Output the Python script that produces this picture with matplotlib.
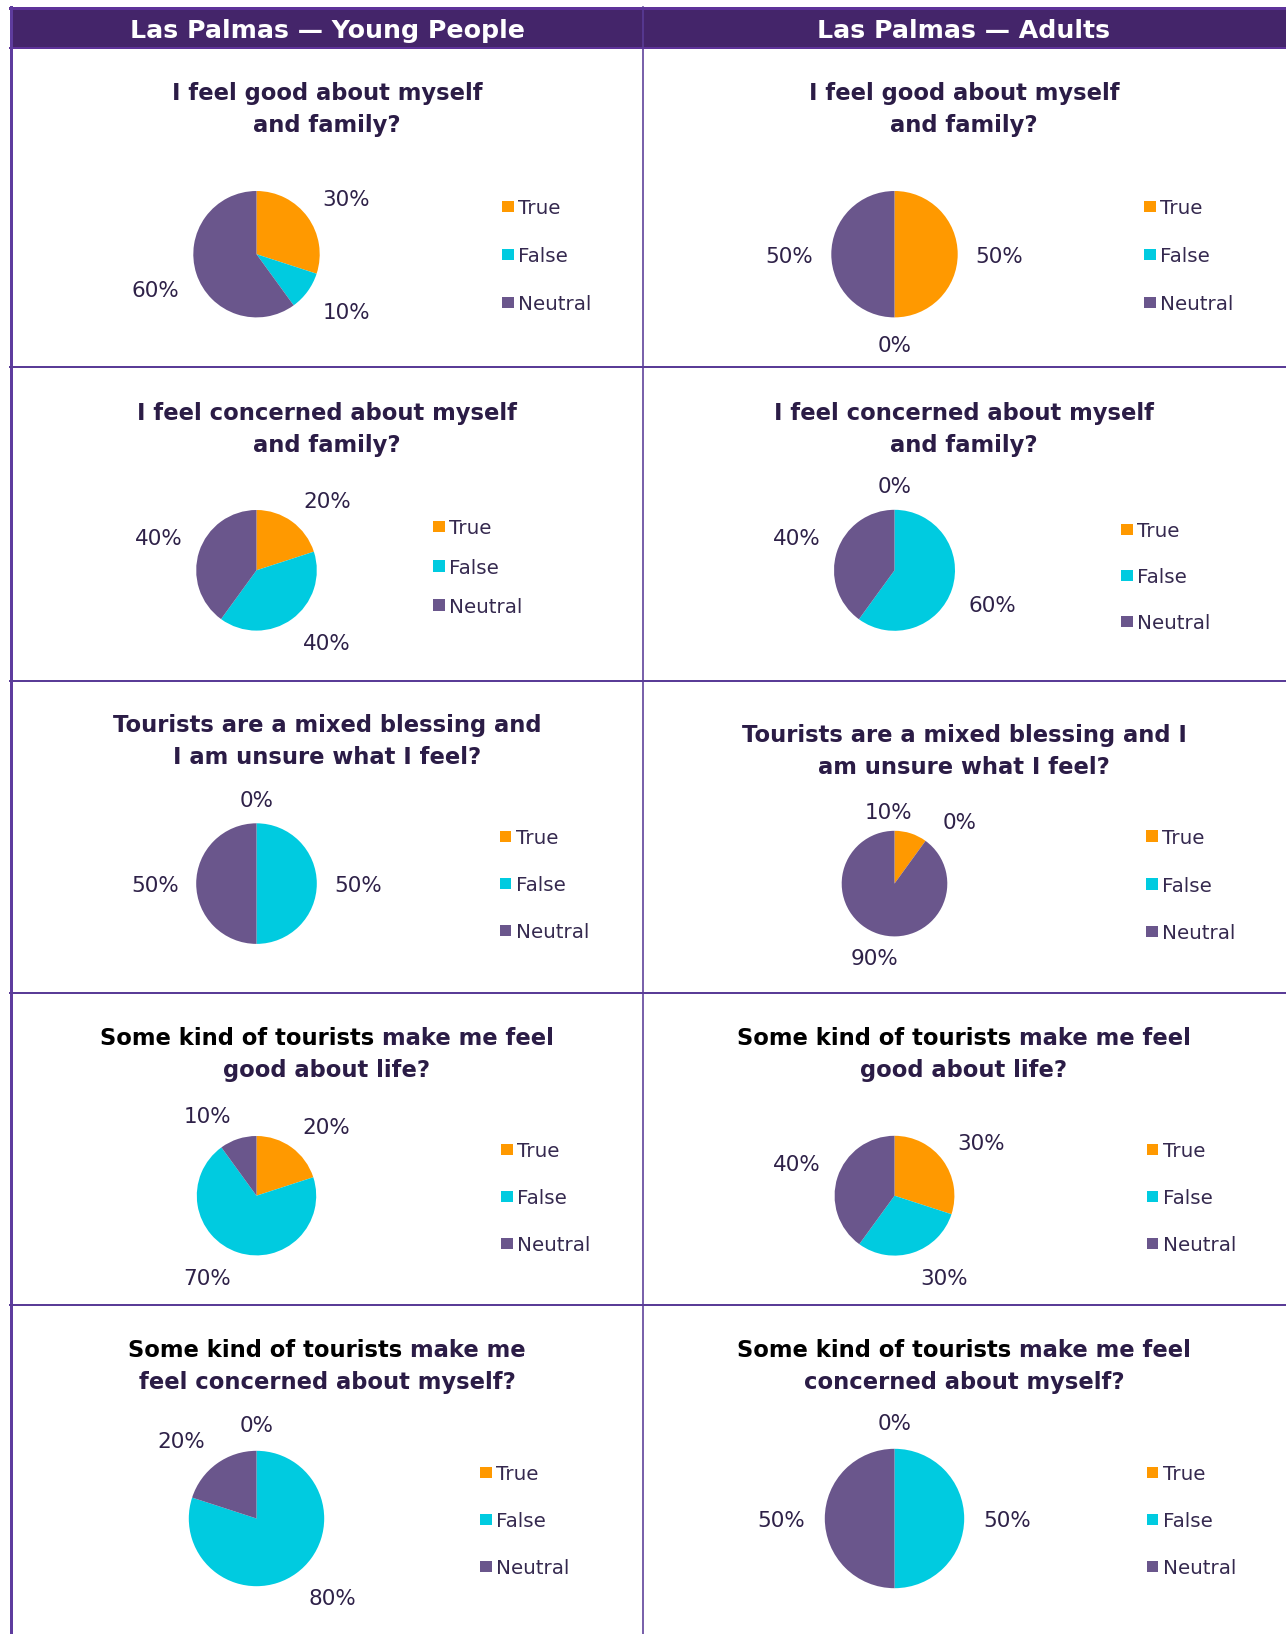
import numpy as np
import matplotlib.pyplot as plt
from matplotlib.patches import Rectangle

plt.rcParams['font.family'] = ['DejaVu Sans']

# ---------------- data ----------------
categories = ['True', 'False', 'Neutral']
slice_colors = ['#FF9900', '#00CBE0', '#6A568C']

col_headers = ['Las Palmas — Young People', 'Las Palmas — Adults']

young_titles = [
    ['I feel good about myself', 'and family?'],
    ['I feel concerned about myself', 'and family?'],
    ['Tourists are a mixed blessing and', 'I am unsure what I feel?'],
    ['Some kind of tourists make me feel', 'good about life?'],
    ['Some kind of tourists make me', 'feel concerned about myself?'],
]
adult_titles = [
    ['I feel good about myself', 'and family?'],
    ['I feel concerned about myself', 'and family?'],
    ['Tourists are a mixed blessing and I', 'am unsure what I feel?'],
    ['Some kind of tourists make me feel', 'good about life?'],
    ['Some kind of tourists make me feel', 'concerned about myself?'],
]
black_prefix = 'Some kind of tourists'

young_true = [30, 20, 0, 20, 0]
young_false = [10, 40, 50, 70, 80]
young_neutral = [60, 40, 50, 10, 20]

adult_true = [50, 0, 10, 30, 0]
adult_false = [0, 60, 0, 30, 50]
adult_neutral = [50, 40, 90, 40, 50]

columns = [
    (young_titles, young_true, young_false, young_neutral),
    (adult_titles, adult_true, adult_false, adult_neutral),
]

# ---------------- layout (pixels, y from top) ----------------
W, H = 1286, 1634
PX = 100 / 72  # px per point

pie_cx = [256.5, 894.5]
pie_cy = [254.2, 570.3, 883.6, 1195.7, 1518.5]
pie_r = [[63.2, 60.3, 60.3, 59.7, 67.7],
         [63.2, 60.5, 52.8, 59.9, 69.7]]
title_cx = [327, 964]
title_y = [[91.7, 411.7, 723.3, 1036.7, 1348.3],
           [91.7, 411.7, 733.3, 1036.7, 1348.3]]
title_gap = 32
leg_x = [[502, 433.4, 499.5, 501, 480],
         [1144, 1121, 1146, 1146.6, 1146.6]]
leg_y = [[206.7, 526.7, 836.7, 1149.3, 1472.7],
         [206.7, 529.3, 836.0, 1149.3, 1472.3]]
leg_gap = [[47.8, 39.2, 47.0, 47.0, 47.0],
           [47.8, 46.2, 47.8, 47.0, 47.2]]
row_lines = [366.7, 680.5, 993, 1304.5]
# labels that Excel shifted sideways to avoid overlap: (col, row, slice) -> side
label_side = {(1, 2, 0): -1, (1, 2, 2): 0}

title_fs = 16.3
header_fs = 18.2
pct_fs = 15.5
leg_fs = 14.3
title_color = '#2B1C46'
pct_color = '#2E2148'
leg_color = '#35294F'
line_color = '#5A3C97'

fig = plt.figure(figsize=(W / 100, H / 100), dpi=100, facecolor='white')
bg = fig.add_axes([0, 0, 1, 1])
bg.set_xlim(0, W)
bg.set_ylim(H, 0)
bg.axis('off')
renderer = fig.canvas.get_renderer()
inv = bg.transData.inverted()

# header band and grid
bg.add_patch(Rectangle((10, 7), W - 10, 41, facecolor='#44256A', edgecolor='none', zorder=1))
bg.plot([10, W], [8.3, 8.3], color='#5E3399', lw=3 * 0.72, zorder=2)
bg.plot([10, W], [47.5, 47.5], color='#5E3399', lw=2 * 0.72, zorder=2)
bg.plot([10.5, 10.5], [7, H], color='#5E3C9E', lw=3 * 0.72, zorder=2)
bg.plot([642.5, 642.5], [7, H], color=line_color, lw=1.6 * 0.72, zorder=2)
for y in row_lines:
    bg.plot([10, W], [y, y], color=line_color, lw=2 * 0.72, zorder=2)

for c, head in enumerate(col_headers):
    bg.text(title_cx[c], 30.5, head, ha='center', va='center', color='white',
            fontsize=header_fs, fontweight='bold', zorder=3)

for c, (titles, t_vals, f_vals, n_vals) in enumerate(columns):
    for r in range(5):
        # title, two lines, with a black lead-in on some questions
        for li, line in enumerate(titles[r]):
            base = title_y[c][r] + li * title_gap + 0.365 * title_fs * PX
            kw = dict(va='baseline', fontsize=title_fs, fontweight='bold', zorder=3)
            if line.startswith(black_prefix):
                t = bg.text(title_cx[c], base, line, ha='center', **kw)
                bb = t.get_window_extent(renderer)
                t.remove()
                x0 = inv.transform((bb.x0, bb.y0))[0]
                x1 = inv.transform((bb.x1, bb.y0))[0]
                bg.text(x0, base, black_prefix, ha='left', color='black', **kw)
                bg.text(x1, base, line[len(black_prefix):].strip(), ha='right',
                        color=title_color, **kw)
            else:
                bg.text(title_cx[c], base, line, ha='center', color=title_color, **kw)

        # pie
        vals = [t_vals[r], f_vals[r], n_vals[r]]
        rad = pie_r[c][r]
        S = 2.4
        cx, cy = pie_cx[c], pie_cy[r]
        ax = fig.add_axes([(cx - S * rad) / W, (H - cy - S * rad) / H,
                           2 * S * rad / W, 2 * S * rad / H], zorder=5)
        wedges, _ = ax.pie(vals, colors=slice_colors, startangle=90, counterclock=False,
                           radius=1, wedgeprops=dict(linewidth=0))
        ax.set_xlim(-S, S)
        ax.set_ylim(-S, S)
        ax.set_aspect('equal')
        ax.axis('off')

        for k, w in enumerate(wedges):
            a = np.deg2rad((w.theta1 + w.theta2) / 2)
            ca, sa = np.cos(a), np.sin(a)
            sx = 0 if abs(ca) < 1e-6 else np.sign(ca)
            sy = 0 if abs(sa) < 1e-6 else np.sign(sa)
            sx = label_side.get((c, r, k), sx)
            x = ca * 1.25 + sx * 26 / rad
            y = sa * 1.25 + sy * 10 / rad - 2.4 / rad
            ax.text(x, y, f'{vals[k]}%', ha='center', va='center',
                    color=pct_color, fontsize=pct_fs)

        # legend
        sq = 11.5
        for k, cat in enumerate(categories):
            yk = leg_y[c][r] + k * leg_gap[c][r]
            bg.add_patch(Rectangle((leg_x[c][r], yk - sq / 2), sq, sq,
                                   facecolor=wedges[k].get_facecolor(), edgecolor='none', zorder=3))
            bg.text(leg_x[c][r] + sq + 4.5, yk + 2.2, cat, ha='left', va='center',
                    color=leg_color, fontsize=leg_fs, zorder=3)

fig.savefig('out.png', dpi=100)
